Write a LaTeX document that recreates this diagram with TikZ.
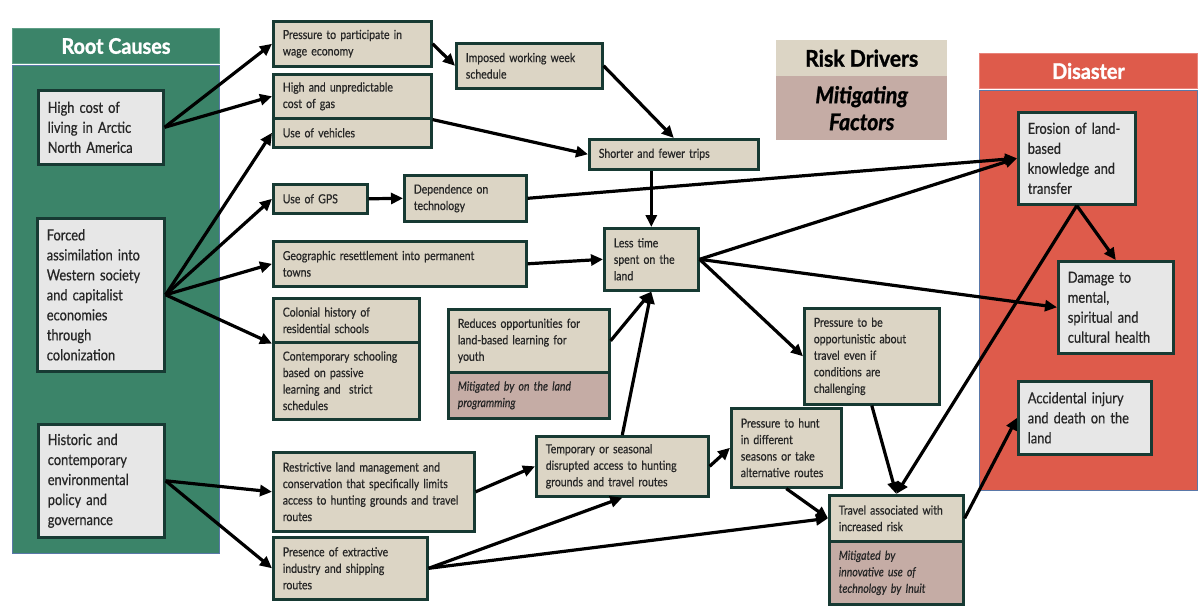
\documentclass[tikz,border=0pt]{standalone}
\usepackage{fontspec}
\setmainfont{Lato}[FakeStretch=0.84, FakeBold=0.5]
\newfontfamily\hdfont{Lato}[FakeStretch=0.92, FakeBold=1.2]
\usetikzlibrary{arrows.meta,calc}
\definecolor{grn}{HTML}{3B8469}
\definecolor{grnlt}{HTML}{5E9E86}
\definecolor{redp}{HTML}{DE5B4B}
\definecolor{redlt}{HTML}{E8837A}
\definecolor{tan}{HTML}{DCD5C5}
\definecolor{mauve}{HTML}{C5ACA5}
\definecolor{lgray}{HTML}{E7E7E7}
\definecolor{bd}{HTML}{173A33}
\definecolor{txt}{HTML}{262626}
\definecolor{panelline}{HTML}{5A78A8}
\tikzset{
  base/.style={draw=bd, line width=2.6pt, anchor=north west, align=left, text=txt,
    inner xsep=9.5pt, inner ysep=2pt, font=\fontsize{12.5}{16.5}\selectfont},
  tanbox/.style={base, fill=tan},
  mitbox/.style={base, fill=mauve, font=\fontsize{12.5}{16.5}\selectfont\itshape},
  graybox/.style={base, fill=lgray, font=\fontsize{15.3}{20}\selectfont},
  panel/.style={anchor=north west, inner sep=0pt},
  arr/.style={-{Triangle[length=12pt,width=11pt]}, line width=3.2pt, black}
}
\begin{document}
\begin{tikzpicture}[x=1pt,y=-1pt]
\useasboundingbox (0,0) rectangle (1198,607);
\fill[white] (0,0) rectangle (1198,607);
% panels
\node[panel, fill=grn, draw=grnlt, line width=1pt, minimum width=207pt, minimum height=35pt,
  text=white, font=\hdfont\fontsize{21.5}{24}\selectfont\bfseries] (rch) at (12,28) {Root Causes};
\node[panel, fill=grn, draw=panelline, line width=0.8pt, minimum width=207pt, minimum height=488pt] (rcb) at (12,65) {};
\node[panel, fill=redp, draw=redlt, line width=1pt, minimum width=218pt, minimum height=35pt,
  text=white, font=\hdfont\fontsize{21.5}{24}\selectfont\bfseries] (dsh) at (979,53) {Disaster};
\node[panel, fill=redp, draw=panelline, line width=0.8pt, minimum width=218pt, minimum height=400pt] (dsb) at (979,90) {};
% legend
\node[panel, fill=tan, minimum width=171pt, minimum height=36pt,
  font=\hdfont\fontsize{23}{26}\selectfont\bfseries] (rd) at (776,40) {Risk Drivers};
\node[panel, fill=mauve, minimum width=171pt, minimum height=64pt, align=center,
  font=\hdfont\fontsize{23}{27}\selectfont\bfseries\itshape] (mf) at (776,76) {Mitigating\\Factors};
% root causes
\node[graybox, text width=106pt, minimum height=74pt] (hc) at (37,89) {High cost of\\living in Arctic\\North America};
\node[graybox, text width=108pt, minimum height=153pt] (fa) at (36,217) {Forced\\assimilation into\\Western society\\and capitalist\\economies\\through\\colonization};
\node[graybox, text width=107pt, minimum height=113pt] (hp) at (37,423) {Historic and\\contemporary\\environmental\\policy and\\governance};
% middle
\node[tanbox, text width=139pt, minimum height=45pt] (pw) at (272,20) {Pressure to participate in\\wage economy};
\node[tanbox, text width=139pt, minimum height=44pt] (cg) at (272,73) {High and unpredictable\\cost of gas};
\node[tanbox, text width=139pt, minimum height=29pt] (uv) at (272,117) {Use of vehicles};
\node[tanbox, text width=127pt, minimum height=45pt] (iw) at (455,42) {Imposed working week\\schedule};
\node[tanbox, text width=75pt, minimum height=29pt] (gps) at (272,183) {Use of GPS};
\node[tanbox, text width=103pt, minimum height=46pt] (dt) at (403,174) {Dependence on\\technology};
\node[tanbox, text width=150pt, minimum height=30pt] (sf) at (588,138) {Shorter and fewer trips};
\node[tanbox, text width=75pt, minimum height=62pt] (lt) at (603,227) {Less time\\spent on the\\land};
\node[tanbox, text width=234pt, minimum height=45pt] (gr) at (272,240) {Geographic resettlement into permanent\\towns};
\node[tanbox, text width=127pt, minimum height=44pt] (ch) at (272,297) {Colonial history of\\residential schools};
\node[tanbox, text width=127pt, minimum height=77pt] (cs) at (272,341) {Contemporary schooling\\based on passive\\learning and~ strict\\schedules};
\node[tanbox, text width=142pt, minimum height=63pt] (ro) at (447,308) {Reduces opportunities for\\land-based learning for\\youth};
\node[mitbox, text width=142pt, minimum height=46pt] (m1) at (447,371) {Mitigated by on the land\\programming};
\node[tanbox, text width=182pt, minimum height=79pt] (rl) at (272,451) {Restrictive land management and\\conservation that specifically limits\\access to hunting grounds and travel\\routes};
\node[tanbox, text width=135pt, minimum height=62pt] (pe) at (272,536) {Presence of extractive\\industry and shipping\\routes};
\node[tanbox, text width=153pt, minimum height=60pt] (td) at (535,435) {Temporary or seasonal\\disrupted access to hunting\\grounds and travel routes};
\node[tanbox, text width=91pt, minimum height=79pt] (ph) at (730,407) {Pressure to hunt\\in different\\seasons or take\\alternative routes};
\node[tanbox, text width=116pt, minimum height=96pt] (po) at (803,307) {Pressure to be\\opportunistic about\\travel even if\\conditions are\\challenging};
\node[tanbox, text width=115pt, minimum height=46pt] (ta) at (828,494) {Travel associated with\\increased risk};
\node[mitbox, text width=115pt, minimum height=63pt] (m2) at (828,540) {Mitigated by\\innovative use of\\technology by Inuit};
% disaster
\node[graybox, text width=98pt, minimum height=92pt] (er) at (1017,111) {Erosion of land-\\based\\knowledge and\\transfer};
\node[graybox, text width=96pt, minimum height=92pt] (dm) at (1057,260) {Damage to\\mental,\\spiritual and\\cultural health};
\node[graybox, text width=114pt, minimum height=73pt] (ai) at (1017,380) {Accidental injury\\and death on the\\land};
% connectors
\draw[arr] (hc.east) -- (pw.west);
\draw[arr] (hc.east) -- (cg.west);
\draw[arr] (fa.east) -- (uv.west);
\draw[arr] (fa.east) -- (gps.west);
\draw[arr] (fa.east) -- (gr.west);
\draw[arr] (fa.east) -- (ch.south west);
\draw[arr] (hp.east) -- (rl.west);
\draw[arr] (hp.east) -- (pe.west);
\draw[arr] (pw.east) -- (iw.west);
\draw[arr] (iw.east) -- (sf.north);
\draw[arr] (cg.south east) -- (sf.west);
\draw[arr] (gps.east) -- (dt.west);
\draw[arr] (dt.east) -- (er.west);
\draw[arr] (sf.south -| lt.north) -- (lt.north);
\draw[arr] (gr.east) -- (lt.west);
\draw[arr] (ro.east) -- (lt.south);
\draw[arr] (td.north) -- (lt.south);
\draw[arr] (lt.east) -- (er.west);
\draw[arr] (lt.east) -- (dm.west);
\draw[arr] (lt.east) -- (po.west);
\draw[arr] (rl.east) -- (td.west);
\draw[arr] (pe.east) -- (td.south);
\draw[arr] (pe.east) -- (ta.west);
\draw[arr] (td.east) -- (ph.west);
\draw[arr] (ph.south) -- (ta.west);
\draw[arr] (po.south) -- (ta.north);
\draw[arr] (er.south) -- (ta.north);
\draw[arr] (er.south) -- (dm.north);
\draw[arr] (ta.east) -- (ai.west);
\end{tikzpicture}
\end{document}
